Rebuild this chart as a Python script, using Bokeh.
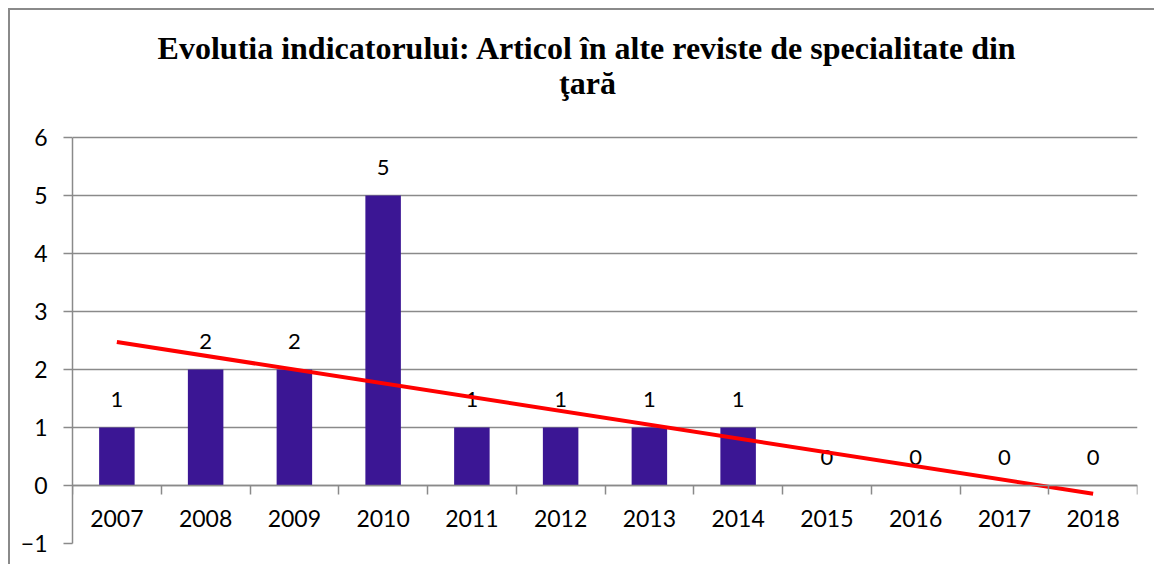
import numpy as np
from bokeh.plotting import figure
from bokeh.models import FixedTicker, Range1d, ColumnDataSource
from bokeh.core.properties import value
from bokeh.embed import file_html
from bokeh.resources import INLINE

# ---- data ----
years = [2007, 2008, 2009, 2010, 2011, 2012, 2013, 2014, 2015, 2016, 2017, 2018]
counts = [1, 2, 2, 5, 1, 1, 1, 1, 0, 0, 0, 0]
y_ticks = [-1, 0, 1, 2, 3, 4, 5, 6]
title_lines = ["Evolutia indicatorului: Articol în alte reviste de specialitate din", "ţară"]

# linear trend line (as in the spreadsheet's trendline), computed from the data
idx = np.arange(len(years))
slope, intercept = np.polyfit(idx, np.array(counts, dtype=float), 1)
trend_x = [years[0], years[-1]]
trend_y = [intercept, intercept + slope * idx[-1]]

GRID = "#8a8a8a"
LABEL_FONT = "Lato"

# layout (pixels)
FIG_W, FIG_H = 1146, 556          # inside the 2px chart border at page (8, 8)
FRAME_LEFT, FRAME_RIGHT_PAD, FRAME_BOTTOM_PAD = 62, 19, 23
FRAME_W = FIG_W - FRAME_LEFT - FRAME_RIGHT_PAD
FRAME_H = FIG_H - FRAME_BOTTOM_PAD
PX_PER_UNIT = 58.0

x0, x1 = years[0] - 0.5, years[-1] + 0.5
y0, y_top = y_ticks[0], y_ticks[-1]
y1 = y0 + FRAME_H / PX_PER_UNIT   # frame extends up to hold the chart title

p = figure(width=FIG_W, height=FIG_H, output_backend="svg", toolbar_location=None, title=None,
           x_range=Range1d(x0, x1), y_range=Range1d(y0, y1),
           min_border_left=FRAME_LEFT, min_border_right=FRAME_RIGHT_PAD,
           min_border_top=0, min_border_bottom=FRAME_BOTTOM_PAD)
p.styles = {"margin-left": "8px", "margin-top": "8px",
            "border-left": "2px solid #8a8a8a", "border-top": "2px solid #8a8a8a"}
p.outline_line_color = None
p.background_fill_color = "white"
p.border_fill_color = "white"

src = ColumnDataSource(dict(x=years, top=counts, lbl=[str(c) for c in counts]))
p.vbar(x="x", top="top", bottom=0, width=0.4, source=src, fill_color="#3B1694", line_color=None)

p.text(x="x", y="top", text="lbl", source=src, text_align="center", text_baseline="alphabetic",
       y_offset=-28, text_font=value(LABEL_FONT), text_font_size="22px", text_color="black")

p.line(trend_x, trend_y, line_color="#ff0000", line_width=4)

# y axis (only from -1 to 6)
p.yaxis.bounds = (y0, y_top)
p.yaxis.ticker = FixedTicker(ticks=y_ticks)
p.yaxis.axis_line_color = GRID
p.yaxis.axis_line_width = 1.5
p.yaxis.major_tick_line_color = GRID
p.yaxis.major_tick_line_width = 1.5
p.yaxis.major_tick_out = 9
p.yaxis.major_tick_in = 0
p.yaxis.minor_tick_line_color = None
p.yaxis.major_label_standoff = 16
p.yaxis.major_label_text_font = LABEL_FONT
p.yaxis.major_label_text_font_size = "23px"
p.yaxis.major_label_text_color = "black"
p.ygrid.ticker = FixedTicker(ticks=y_ticks)
p.ygrid.grid_line_color = GRID
p.ygrid.grid_line_width = 1.5
p.xgrid.grid_line_color = None

# x axis at y = 0
xa = p.xaxis[0]
xa.fixed_location = 0
xa.ticker = FixedTicker(ticks=years, minor_ticks=[y - 0.5 for y in years] + [years[-1] + 0.5])
xa.major_label_overrides = {y: str(y) for y in years}
xa.axis_line_color = GRID
xa.axis_line_width = 1.5
xa.major_tick_line_color = None
xa.major_tick_out = 0
xa.major_tick_in = 0
xa.minor_tick_line_color = GRID
xa.minor_tick_line_width = 1.5
xa.minor_tick_out = 9
xa.minor_tick_in = 0
xa.major_label_standoff = 15
xa.major_label_text_font = LABEL_FONT
xa.major_label_text_font_size = "23px"
xa.major_label_text_color = "black"

# chart title: two centred lines above the plot area
title_cx = x0 + (587 - 72) / FRAME_W * (x1 - x0)
title_y = [y_top + (137 - 59) / PX_PER_UNIT, y_top + (137 - 94) / PX_PER_UNIT]
p.text(x=[title_cx, title_cx], y=title_y, text=title_lines, y_offset=-12,
       text_align="center", text_baseline="alphabetic",
       text_font=value("Liberation Serif"), text_font_style="bold",
       text_font_size="32px", text_color="black")

open("out.html", "w").write(file_html(p, INLINE))
